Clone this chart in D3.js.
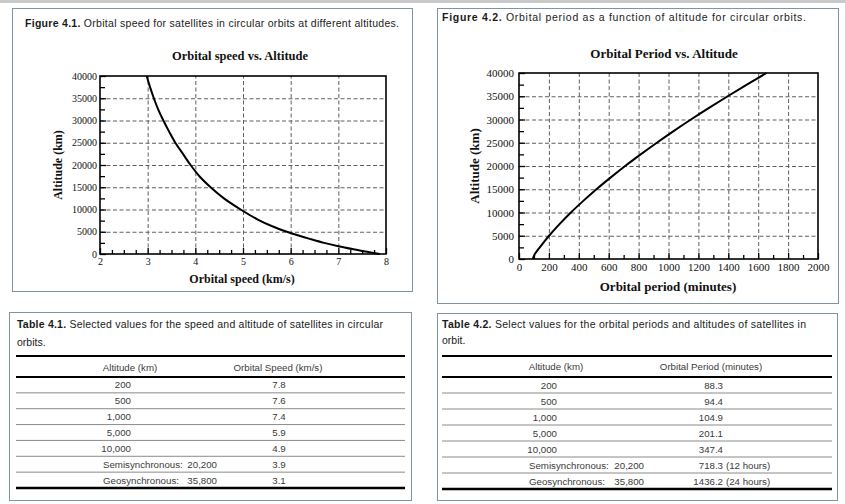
<!DOCTYPE html>
<html><head><meta charset="utf-8">
<script src="https://cdn.jsdelivr.net/npm/d3@7"></script>
<style>body{margin:0;background:#fff}svg{display:block}</style>
</head><body>
<svg id="c" width="845" height="504"></svg>
<script>
// ---- data ----
const speedKms   = [7.87, 7.6, 7.35, 7.0, 6.7, 6.4, 6.15, 5.92, 5.6, 5.3, 4.95, 4.6, 4.32, 4.1, 3.9, 3.74, 3.58, 3.45, 3.33, 3.22, 3.13, 3.05, 2.98];
const speedAltKm = [0, 500, 1000, 1750, 2500, 3400, 4200, 5000, 6300, 7800, 10000, 12500, 15000, 17300, 20000, 22500, 25000, 27500, 30000, 32500, 35000, 37500, 40000];
const periodMin   = [92, 105, 139, 168, 201, 271, 347, 430, 518, 612, 710, 814, 922, 1034, 1150, 1271, 1396, 1524, 1656];
const periodAltKm = [0, 1000, 2500, 3700, 5000, 7500, 10000, 12500, 15000, 17500, 20000, 22500, 25000, 27500, 30000, 32500, 35000, 37500, 40000];
const speedTicks  = [2, 3, 4, 5, 6, 7, 8];
const periodTicks = [0, 200, 400, 600, 800, 1000, 1200, 1400, 1600, 1800, 2000];
const altTicks    = [0, 5000, 10000, 15000, 20000, 25000, 30000, 35000, 40000];
const tableAltNames  = ["", "", "", "", "", "Semisynchronous:", "Geosynchronous:"];
const tableAltValues = ["200", "500", "1,000", "5,000", "10,000", "20,200", "35,800"];
const tableSpeeds    = ["7.8", "7.6", "7.4", "5.9", "4.9", "3.9", "3.1"];
const tablePeriods   = ["88.3", "94.4", "104.9", "201.1", "347.4", "718.3", "1436.2"];
const tablePeriodNotes = ["", "", "", "", "", "(12 hours)", "(24 hours)"];

const svg = d3.select("#c");
const SANS = "'Liberation Sans', Arial, sans-serif";
const SERIF = "'Liberation Serif', 'Times New Roman', serif";
const BORDER = "#7f95a2";

svg.append("rect").attr("x",0).attr("y",0).attr("width",845).attr("height",3).attr("fill","#c9c9c9");

// panels
[[12,8,400,283],[437,8,401,295],[9,312,402,188],[437,313,400,187]].forEach(p=>{
  svg.append("rect").attr("x",p[0]+0.5).attr("y",p[1]+0.5).attr("width",p[2]).attr("height",p[3])
    .attr("fill","#fff").attr("stroke",BORDER).attr("stroke-width",1);
});

function caption(x, y, bold, rest, width) {
  const t = svg.append("text").attr("x",x).attr("y",y).attr("font-family",SANS)
    .attr("font-size",10.5).attr("fill","#1a1a1a");
  t.append("tspan").attr("font-weight","bold").text(bold);
  t.append("tspan").text(rest);
  if (width) t.attr("textLength",width).attr("lengthAdjust","spacing");
  return t;
}
caption(25, 27, "Figure 4.1.", " Orbital speed for satellites in circular orbits at different altitudes.", 374);
caption(442, 21, "Figure 4.2.", " Orbital period as a function of altitude for circular orbits.", 364);
caption(17, 328, "Table 4.1.", " Selected values for the speed and altitude of satellites in circular", 366);
svg.append("text").attr("x",17).attr("y",346).attr("font-family",SANS).attr("font-size",10.5).attr("fill","#1a1a1a").text("orbits.");
caption(442, 328, "Table 4.2.", " Select values for the orbital periods and altitudes of satellites in", 364);
svg.append("text").attr("x",442).attr("y",344).attr("font-family",SANS).attr("font-size",10.5).attr("fill","#1a1a1a").text("orbit.");

function drawChart(o) {
  const x = d3.scaleLinear().domain(o.xDomain).range([o.left, o.right]);
  const y = d3.scaleLinear().domain([0, 40000]).range([o.bottom, o.top]);
  const g = svg.append("g");
  const h = o.bottom - o.top, w = o.right - o.left;
  // grid
  const gx = g.append("g").attr("transform",`translate(0,${o.bottom})`)
    .call(d3.axisBottom(x).tickValues(o.xTicks.slice(1,-1)).tickSize(-h).tickFormat(""));
  const gy = g.append("g").attr("transform",`translate(${o.left},0)`)
    .call(d3.axisLeft(y).tickValues(altTicks.slice(1,-1)).tickSize(-w).tickFormat(""));
  [gx, gy].forEach(a=>{ a.select(".domain").remove();
    a.selectAll("line").attr("stroke","#5f5f5f").attr("stroke-width",1).attr("stroke-dasharray","4,2.5"); });
  // minor ticks
  const mx = g.append("g").attr("transform",`translate(0,${o.bottom})`)
    .call(d3.axisBottom(x).tickValues(o.xMinor).tickSize(-4).tickFormat(""));
  const my = g.append("g").attr("transform",`translate(${o.left},0)`)
    .call(d3.axisLeft(y).tickValues(d3.range(2500, 40000, 5000)).tickSize(-5).tickFormat(""));
  [mx, my].forEach(a=>{ a.select(".domain").remove(); a.selectAll("line").attr("stroke","#000").attr("stroke-width",1.3); });
  // major ticks + labels
  const ax = g.append("g").attr("transform",`translate(0,${o.bottom})`)
    .call(d3.axisBottom(x).tickValues(o.xTicks).tickSize(-6).tickPadding(o.xPad).tickFormat(d3.format("d")));
  const ay = g.append("g").attr("transform",`translate(${o.left},0)`)
    .call(d3.axisLeft(y).tickValues(altTicks).tickSize(-6).tickPadding(o.yPad).tickFormat(d3.format("d")));
  [ax, ay].forEach(a=>{ a.select(".domain").remove();
    a.selectAll("line").attr("stroke","#000").attr("stroke-width",1.3);
    a.selectAll("text").attr("font-family",SERIF).attr("font-size",o.tickFont).attr("fill","#111"); });
  // frame
  g.append("rect").attr("x",o.left).attr("y",o.top).attr("width",w).attr("height",h)
    .attr("fill","none").attr("stroke","#000").attr("stroke-width",1.6);
  // curve
  const line = d3.line().x(d=>x(d[0])).y(d=>y(d[1])).curve(d3.curveCatmullRom);
  g.append("path").datum(d3.zip(o.xs, o.ys)).attr("d",line)
    .attr("fill","none").attr("stroke","#000").attr("stroke-width",2);
  // titles
  g.append("text").attr("x",o.titleX).attr("y",o.titleY).attr("text-anchor","middle")
    .attr("font-family",SERIF).attr("font-weight","bold").attr("font-size",o.titleFont).attr("fill","#111").text(o.title);
  g.append("text").attr("x",o.xLabX).attr("y",o.xLabY).attr("text-anchor","middle")
    .attr("font-family",SERIF).attr("font-weight","bold").attr("font-size",o.labFont).attr("fill","#111").text(o.xLabel);
  g.append("text").attr("transform",`translate(${o.yLabX},${(o.top+o.bottom)/2}) rotate(-90)`).attr("text-anchor","middle")
    .attr("font-family",SERIF).attr("font-weight","bold").attr("font-size",o.labFont).attr("fill","#111").text("Altitude (km)");
}

drawChart({xDomain:[2,8], left:100, right:386, top:76, bottom:254,
  xTicks:speedTicks, xMinor:d3.range(2.25, 8, 0.25).filter(v=>v%1!==0),
  xs:speedKms, ys:speedAltKm, xPad:4, yPad:3, tickFont:10,
  title:"Orbital speed vs. Altitude", titleX:240, titleY:60, titleFont:12.5,
  xLabel:"Orbital speed (km/s)", xLabX:242, xLabY:283, yLabX:62, labFont:12});

drawChart({xDomain:[0,2000], left:519, right:818, top:73, bottom:259,
  xTicks:periodTicks, xMinor:d3.range(100, 2000, 200),
  xs:periodMin, ys:periodAltKm, xPad:4, yPad:5, tickFont:11,
  title:"Orbital Period vs. Altitude", titleX:664, titleY:58, titleFont:13,
  xLabel:"Orbital period (minutes)", xLabX:668, xLabY:291, yLabX:479, labFont:13});

// tables
function drawTable(o) {
  const g = svg.append("g");
  const rowY = d3.scaleBand().domain(d3.range(tableAltValues.length)).range([o.hdrBottom, o.bottom]);
  const rule = (y, sw, c) => g.append("line").attr("x1",o.x1).attr("x2",o.x2).attr("y1",y).attr("y2",y).attr("stroke",c).attr("stroke-width",sw);
  rule(o.top, 2, "#000");
  rule(o.hdrBottom, 2, "#000");
  d3.range(1, tableAltValues.length).forEach(i=>rule(rowY(i), 1, "#8a8a8a"));
  rule(o.bottom, 2.5, "#000");
  const txt = (x, y, s, anchor) => g.append("text").attr("x",x).attr("y",y).attr("text-anchor",anchor)
    .attr("font-family",SANS).attr("font-size",9.7).attr("fill","#3a3a3a").text(s);
  txt(o.hAltX, o.hdrY, "Altitude (km)", "middle");
  txt(o.hValX, o.hdrY, o.valHeader, "middle");
  tableAltValues.forEach((v,i)=>{
    const yy = rowY(i) + rowY.bandwidth()/2 + 3.5;
    if (tableAltNames[i]) { txt(o.nameX, yy, tableAltNames[i], "start"); txt(o.semiRight, yy, v, "end"); }
    else txt(o.altRight, yy, v, "end");
    o.valFn(txt, yy, i);
  });
}
drawTable({x1:16, x2:405, top:356, hdrBottom:377, bottom:488, hdrY:371,
  hAltX:130, hValX:278, valHeader:"Orbital Speed (km/s)", nameX:103, semiRight:217, altRight:131,
  valFn:(txt,yy,i)=>txt(279, yy, tableSpeeds[i], "middle")});
drawTable({x1:442, x2:832, top:356, hdrBottom:377, bottom:489, hdrY:370,
  hAltX:556, hValX:711, valHeader:"Orbital Period (minutes)", nameX:529, semiRight:644, altRight:557,
  valFn:(txt,yy,i)=>{ txt(723, yy, tablePeriods[i], "end"); if (tablePeriodNotes[i]) txt(726, yy, tablePeriodNotes[i], "start"); }});
</script>
</body></html>
